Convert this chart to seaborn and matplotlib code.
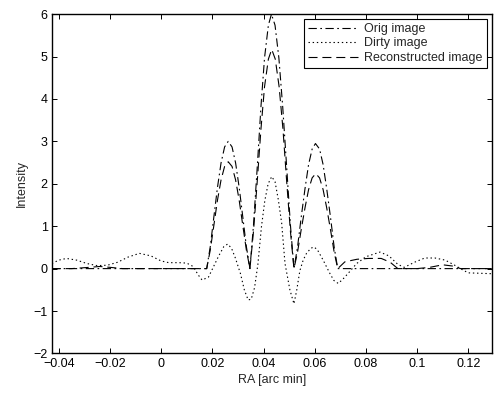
import matplotlib
matplotlib.use("Agg")
import matplotlib.pyplot as plt
import seaborn as sns
import pandas as pd

# ---------------- data ----------------
orig_x = [-0.0427, 0.0178,
          0.0192, 0.0206, 0.0220, 0.0234, 0.0248, 0.0262, 0.0277, 0.0291, 0.0305, 0.0319, 0.0333, 0.0347,
          0.0361, 0.0376, 0.0390, 0.0404, 0.0419, 0.0431, 0.0445, 0.0460, 0.0475, 0.0490, 0.0505, 0.0519,
          0.0533, 0.0547, 0.0562, 0.0576, 0.0590, 0.0603, 0.0619, 0.0633, 0.0647, 0.0662, 0.0676, 0.0690,
          0.1291]
orig_y = [0.0, 0.0,
          0.52, 1.22, 1.91, 2.49, 2.87, 3.00, 2.87, 2.49, 1.91, 1.22, 0.52, 0.0,
          1.04, 2.44, 3.82, 4.97, 5.74, 6.00, 5.74, 4.97, 3.82, 2.44, 1.04, 0.0,
          0.51, 1.20, 1.88, 2.45, 2.82, 2.95, 2.82, 2.45, 1.88, 1.20, 0.51, 0.0,
          0.0]

recon_x = [-0.0427, -0.035, -0.028, -0.024, -0.020, -0.015, 0.0178,
           0.0192, 0.0206, 0.0220, 0.0234, 0.0248, 0.0262, 0.0277, 0.0291, 0.0305, 0.0319, 0.0333, 0.0347,
           0.0361, 0.0376, 0.0390, 0.0404, 0.0419, 0.0432, 0.0446, 0.0461, 0.0476, 0.0490, 0.0505, 0.0519,
           0.0533, 0.0547, 0.0562, 0.0576, 0.0590, 0.0604, 0.0619, 0.0633, 0.0647, 0.0662, 0.0676, 0.0690,
           0.0718, 0.0765, 0.0810, 0.0860, 0.0895, 0.0925, 0.1000, 0.1050,
           0.1100, 0.1140, 0.1170, 0.1291]
recon_y = [0.0, 0.0, 0.03, 0.05, 0.03, 0.0, 0.0,
           0.44, 1.02, 1.61, 2.09, 2.41, 2.52, 2.41, 2.09, 1.61, 1.02, 0.44, 0.0,
           0.89, 2.10, 3.29, 4.29, 4.94, 5.17, 4.94, 4.29, 3.29, 2.10, 0.89, 0.0,
           0.39, 0.91, 1.43, 1.86, 2.14, 2.24, 2.14, 1.86, 1.43, 0.91, 0.39, 0.0,
           0.16, 0.22, 0.24, 0.24, 0.15, 0.0, 0.0, 0.03,
           0.09, 0.06, 0.0, 0.0]

dirty_x = [-0.0427, -0.040, -0.037, -0.033, -0.029, -0.025, -0.021, -0.017,
           -0.013, -0.0085, -0.004, 0.000, 0.003, 0.007, 0.010, 0.0125,
           0.0145, 0.0160, 0.0185, 0.0205, 0.0225, 0.0245, 0.0260, 0.0275,
           0.0290, 0.0310, 0.0325, 0.0340, 0.0352, 0.0365, 0.0378, 0.0392,
           0.0405, 0.0418, 0.0432, 0.0445, 0.0458, 0.0471, 0.0484, 0.0503,
           0.0519, 0.0530, 0.0542, 0.0555, 0.0568, 0.0585, 0.0597, 0.0610,
           0.0633, 0.0659, 0.0675, 0.0692, 0.0710, 0.0731, 0.0764, 0.0800,
           0.0855, 0.0890, 0.0925, 0.0950, 0.0990, 0.1030, 0.1070, 0.1110,
           0.1150, 0.1175, 0.1200, 0.1291]
dirty_y = [0.12, 0.20, 0.24, 0.20, 0.12, 0.07, 0.08, 0.15,
           0.27, 0.36, 0.30, 0.18, 0.14, 0.14, 0.13, 0.05,
           -0.15, -0.27, -0.20, 0.05, 0.30, 0.52, 0.58, 0.48,
           0.25, -0.12, -0.50, -0.74, -0.72, -0.45, 0.10, 0.99,
           1.60, 2.00, 2.17, 2.05, 1.62, 1.07, 0.12, -0.50,
           -0.83, -0.50, -0.05, 0.20, 0.36, 0.48, 0.51, 0.45,
           0.20, -0.11, -0.28, -0.35, -0.25, -0.11, 0.12, 0.28,
           0.39, 0.30, 0.10, 0.03, 0.15, 0.25, 0.25, 0.20,
           0.07, -0.02, -0.10, -0.12]

series_labels = ["Orig image", "Dirty image", "Reconstructed image"]
x_ticks = [-0.04, -0.02, 0, 0.02, 0.04, 0.06, 0.08, 0.1, 0.12]
x_tick_labels = ["\u22120.04", "\u22120.02", "0", "0.02", "0.04", "0.06", "0.08", "0.1", "0.12"]
y_ticks = [-2, -1, 0, 1, 2, 3, 4, 5, 6]
y_tick_labels = ["\u22122", "\u22121", "0", "1", "2", "3", "4", "5", "6"]
x_label = "RA [arc min]"
y_label = "Intensity"

# ---------------- style ----------------
sns.set_style("ticks")
plt.rcParams["font.family"] = ["Liberation Sans", "DejaVu Sans"]
plt.rcParams["lines.scale_dashes"] = False

fig = plt.figure(figsize=(4.94, 3.94), dpi=100)
ax = fig.add_axes([0.105, 0.103, 0.890, 0.861])

df_o = pd.DataFrame({"x": orig_x, "y": orig_y})
df_d = pd.DataFrame({"x": dirty_x, "y": dirty_y})
df_r = pd.DataFrame({"x": recon_x, "y": recon_y})

lw = 0.8
sns.lineplot(data=df_o, x="x", y="y", ax=ax, color="black", lw=lw,
             label=series_labels[0], estimator=None)
sns.lineplot(data=df_d, x="x", y="y", ax=ax, color="black", lw=lw,
             label=series_labels[1], estimator=None)
sns.lineplot(data=df_r, x="x", y="y", ax=ax, color="black", lw=lw,
             label=series_labels[2], estimator=None)

dash_patterns = [(0, (6, 2.5, 1.2, 2.5)), (0, (1.0, 2.0)), (0, (6.5, 3.5))]
for line, ls in zip(ax.get_lines(), dash_patterns):
    line.set_linestyle(ls)

ax.set_xlim(-0.0427, 0.1291)
ax.set_ylim(-2, 6)
ax.set_xticks(x_ticks)
ax.set_xticklabels(x_tick_labels)
ax.set_yticks(y_ticks)
ax.set_yticklabels(y_tick_labels)
ax.set_xlabel(x_label, fontsize=9, labelpad=3)
ax.set_ylabel(y_label, fontsize=9, labelpad=4)

for s in ax.spines.values():
    s.set_visible(True)
    s.set_linewidth(1.0)
    s.set_color("black")
ax.tick_params(direction="in", length=3.5, width=0.7, labelsize=9,
               top=True, right=True, pad=3, colors="black")

leg = ax.legend(loc="upper right", fontsize=9, handlelength=4.0,
                frameon=True, fancybox=False, borderaxespad=0.4,
                handletextpad=0.5, labelspacing=0.2, borderpad=0.3)
leg.get_frame().set_edgecolor("black")
leg.get_frame().set_linewidth(0.8)
leg.get_frame().set_alpha(1)
for h, ls in zip(leg.get_lines(), dash_patterns):
    h.set_linestyle(ls)

fig.savefig("out.png", dpi=100)
